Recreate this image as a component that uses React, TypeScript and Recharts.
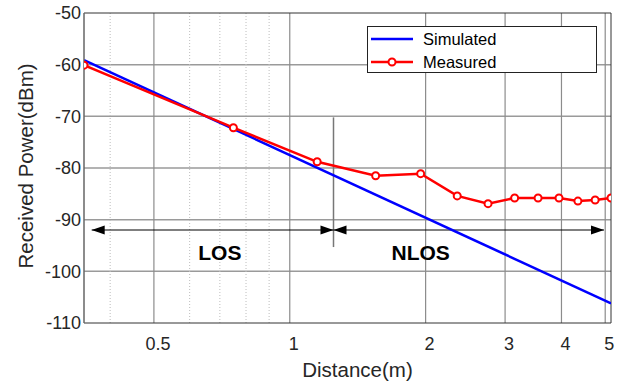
import { LineChart, Line, XAxis, YAxis, ReferenceLine, ReferenceDot, Legend } from "recharts";

const distance = [0.35, 0.75, 1.15, 1.55, 1.95, 2.35, 2.75, 3.15, 3.55, 3.95, 4.35, 4.75, 5.15];
const measured = [-60.1, -72.2, -78.8, -81.5, -81.1, -85.4, -86.9, -85.8, -85.8, -85.8, -86.4, -86.2, -85.8];
const simDistance = [0.35, 5.15];
const simulated = [-59.1, -106.2];

const xTicks = [0.5, 1, 2, 3, 4, 5];
const xMinor = [0.4, 0.6, 0.7, 0.8, 0.9];
const yTicks = [-110, -100, -90, -80, -70, -60, -50];
const yGrid = [-100, -90, -80, -70, -60];

const boundary = 1.25;
const arrowLevel = -92;
const regions = [
  { name: "LOS", from: 0.364, to: boundary, labelX: 0.7 },
  { name: "NLOS", from: boundary, to: 4.97, labelX: 1.95 },
];
const labelLevel = -96.3;

const FONT = '"Liberation Sans", Arial, Helvetica, sans-serif';
const TEXT = "#262626";

const measuredRows = distance.map((d, i) => ({ d, p: measured[i] }));
const simulatedRows = simDistance.map((d, i) => ({ d, p: simulated[i] }));

// double-headed arrow drawn on a reference segment
const Arrow = (p: any) => {
  const { x1, y1, x2, y2 } = p;
  const h = 13, w = 4.5;
  return (
    <g>
      <line x1={x1} y1={y1} x2={x2} y2={y2} stroke="#000" strokeWidth={1} />
      <polygon points={`${x1},${y1} ${x1 + h},${y1 - w} ${x1 + h},${y1 + w}`} fill="#000" />
      <polygon points={`${x2},${y2} ${x2 - h},${y2 - w} ${x2 - h},${y2 + w}`} fill="#000" />
    </g>
  );
};

const YLabel = ({ viewBox }: any) => {
  const cx = viewBox.x + 25;
  const cy = viewBox.y + viewBox.height / 2 - 2;
  return (
    <text x={cx} y={cy} transform={`rotate(-90 ${cx} ${cy})`} textAnchor="middle"
      dominantBaseline="central" fill={TEXT} fontSize={20.5} fontFamily={FONT}>
      Received Power(dBm)
    </text>
  );
};

const LegendBox = () => (
  <div style={{
    width: 230, height: 47, boxSizing: "border-box", border: "1px solid #222", background: "#fff",
    fontFamily: FONT, fontSize: 16.5, color: "#000", position: "relative",
  }}>
    {[{ label: "Simulated", color: "#0000ff", dot: false }, { label: "Measured", color: "#ff0000", dot: true }].map((r, i) => (
      <div key={r.label} style={{ position: "absolute", left: 2, top: i === 0 ? 2 : 25, height: 20, display: "flex", alignItems: "center" }}>
        <svg width={44} height={20}>
          <line x1={1} y1={10} x2={43} y2={10} stroke={r.color} strokeWidth={2.5} />
          {r.dot && <circle cx={22} cy={10} r={3.5} stroke={r.color} strokeWidth={2} fill="#fff" />}
        </svg>
        <span style={{ marginLeft: 9 }}>{r.label}</span>
      </div>
    ))}
  </div>
);

export default function App() {
  return (
    <div style={{ position: "absolute", left: 0, top: 0, width: 622, height: 382, background: "#fff" }}>
      <LineChart width={622} height={382} margin={{ top: 13, right: 11, left: 0, bottom: 0 }}>
        {yGrid.map((y) => (
          <ReferenceLine key={`h${y}`} y={y} stroke="#9a9a9a" strokeWidth={1.5} />
        ))}
        {xMinor.map((x) => (
          <ReferenceLine key={`m${x}`} x={x} stroke="#bdbdbd" strokeDasharray="1 2" />
        ))}
        {xTicks.map((x) => (
          <ReferenceLine key={`v${x}`} x={x} stroke="#8c8c8c" strokeWidth={1.2} />
        ))}
        <ReferenceLine y={-50} stroke="#333" />
        <ReferenceLine x={5.15} stroke="#333" />
        <XAxis dataKey="d" type="number" scale="log" domain={[0.35, 5.15]} allowDataOverflow
          ticks={xTicks} tickFormatter={(v) => String(v)} height={59} tickLine={false} tickSize={0} tickMargin={14}
          axisLine={{ stroke: "#333" }} tick={{ fill: TEXT, fontSize: 18, fontFamily: FONT, dx: 4 }}
          label={{ value: "Distance(m)", position: "insideBottom", offset: 5, dx: 10, fill: TEXT, fontSize: 20.5, fontFamily: FONT }} />
        <YAxis type="number" domain={[-110, -50]} ticks={yTicks} width={84} interval={0}
          tickLine={false} tickSize={0} tickMargin={3} axisLine={{ stroke: "#666", strokeWidth: 1.5 }}
          tick={{ fill: TEXT, fontSize: 18, fontFamily: FONT }} label={<YLabel />} />
        <ReferenceLine segment={[{ x: boundary, y: -70.2 }, { x: boundary, y: -95.3 }]} stroke="#777" strokeWidth={1.5} />
        {regions.map((r) => (
          <ReferenceLine key={r.name} segment={[{ x: r.from, y: arrowLevel }, { x: r.to, y: arrowLevel }]} shape={Arrow} />
        ))}
        {regions.map((r) => (
          <ReferenceDot key={`l${r.name}`} x={r.labelX} y={labelLevel} r={0}
            shape={(p: any) => (
              <text x={p.cx} y={p.cy} textAnchor="middle" dominantBaseline="central" fontWeight="bold"
                fontSize={21} fontFamily={FONT} fill="#000">{r.name}</text>
            )} />
        ))}
        <Line data={simulatedRows} dataKey="p" name="Simulated" stroke="#0000ff" strokeWidth={2.5} dot={false} isAnimationActive={false} />
        <Line data={measuredRows} dataKey="p" name="Measured" stroke="#ff0000" strokeWidth={2.5}
          dot={{ r: 3.5, stroke: "#ff0000", strokeWidth: 2, fill: "#fff" }} isAnimationActive={false} />
        <Legend layout="vertical" align="center" verticalAlign="middle" content={<LegendBox />}
          wrapperStyle={{ left: 367, top: 26, width: 230, height: 47 }} />
      </LineChart>
    </div>
  );
}
